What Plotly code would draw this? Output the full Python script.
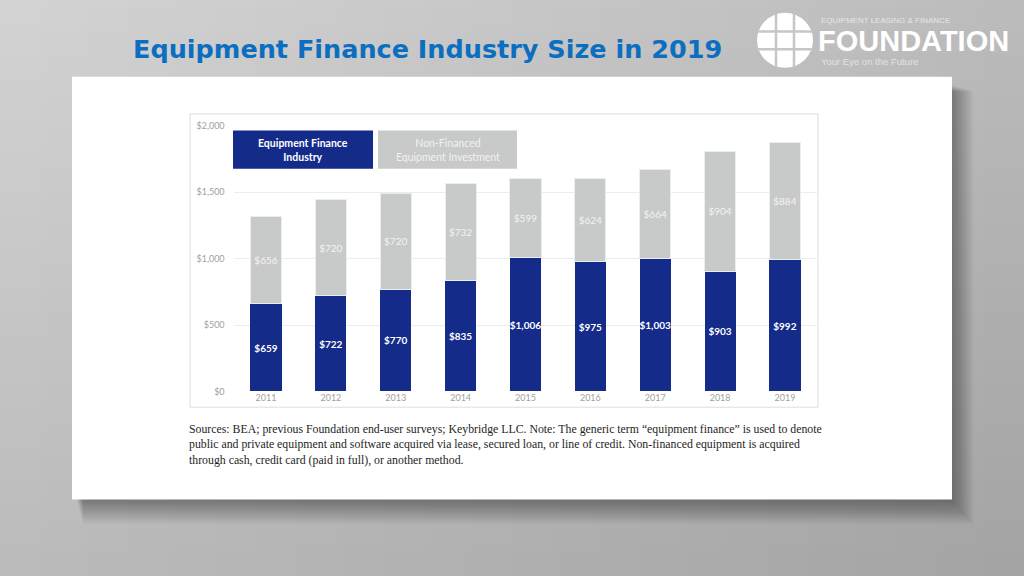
import plotly.graph_objects as go

years = ["2011", "2012", "2013", "2014", "2015", "2016", "2017", "2018", "2019"]
financed = [659, 722, 770, 835, 1006, 975, 1003, 903, 992]
non_financed = [656, 720, 720, 732, 599, 624, 664, 904, 884]
y_ticks = [0, 500, 1000, 1500, 2000]
y_tick_labels = ["$0", "$500", "$1,000", "$1,500", "$2,000"]

W, H = 1024, 576
def px(x):
    return x / W
def py(y):
    return 1 - y / H

BLUE = "#142b8a"
GRAY = "#c8c9c9"

fig = go.Figure()
fig.add_trace(go.Bar(
    x=years, y=financed, name="Equipment Finance Industry",
    marker=dict(color=BLUE, line=dict(width=0)),
    text=[f"${v:,}" for v in financed], textposition="inside",
    insidetextanchor="middle", textangle=0,
    textfont=dict(color="white", size=10, family="Lato", weight="bold"),
))
fig.add_trace(go.Bar(
    x=years, y=non_financed, name="Non-Financed Equipment Investment",
    marker=dict(color=GRAY, line=dict(width=1, color="#e8eef5")),
    text=[f"${v:,}" for v in non_financed], textposition="inside",
    insidetextanchor="middle", textangle=0,
    textfont=dict(color="#f4f4f4", size=10, family="Lato"),
))

shapes = []
# background gradient: darker toward bottom and right
n = 24
for i in range(n):
    y0 = i * H / n
    shapes.append(dict(type="rect", xref="paper", yref="paper", layer="below",
                       x0=-0.05, x1=1.05, y0=-0.05, y1=py(y0),
                       fillcolor="rgba(0,0,0,0.0045)", line=dict(width=0)))
    x0 = i * W / n
    shapes.append(dict(type="rect", xref="paper", yref="paper", layer="below",
                       x0=px(x0), x1=1.05, y0=-0.05, y1=1.05,
                       fillcolor="rgba(0,0,0,0.005)", line=dict(width=0)))
# card shadow (soft, below and right)
for k in range(1, 25):
    shapes.append(dict(type="rect", xref="paper", yref="paper", layer="below",
                       x0=px(76 + k * 0.3), x1=px(950 + k), y0=py(502 + k * 1.1), y1=py(80 + k * 0.3),
                       fillcolor="rgba(0,0,0,0.015)", line=dict(width=0)))
# card
shapes.append(dict(type="rect", xref="paper", yref="paper", layer="below",
                   x0=px(72), x1=px(952), y0=py(503), y1=py(72),
                   fillcolor="white", line=dict(width=0)))
# chart image border
shapes.append(dict(type="rect", xref="paper", yref="paper", layer="below",
                   x0=px(190), x1=px(818), y0=py(409), y1=py(110),
                   fillcolor="rgba(0,0,0,0)", line=dict(width=1, color="#dedede")))
# legend boxes
shapes.append(dict(type="rect", xref="paper", yref="paper",
                   x0=px(233), x1=px(373), y0=py(166), y1=py(127),
                   fillcolor=BLUE, line=dict(width=0)))
shapes.append(dict(type="rect", xref="paper", yref="paper",
                   x0=px(378), x1=px(517), y0=py(166), y1=py(127),
                   fillcolor=GRAY, line=dict(width=0)))
# logo circle
cx, cy, r = 785, 35, 28
shapes.append(dict(type="circle", xref="paper", yref="paper",
                   x0=px(cx - r), x1=px(cx + r), y0=py(cy + r), y1=py(cy - r),
                   fillcolor="white", line=dict(width=0)))
for gx in (776, 794):
    shapes.append(dict(type="line", xref="paper", yref="paper",
                       x0=px(gx), x1=px(gx), y0=py(cy + r), y1=py(cy - r),
                       line=dict(color="#c6c6c6", width=2.5)))
for gy in (26, 44):
    shapes.append(dict(type="line", xref="paper", yref="paper",
                       x0=px(cx - r), x1=px(cx + r), y0=py(gy), y1=py(gy),
                       line=dict(color="#c6c6c6", width=2.5)))

annotations = [
    dict(text="<b>Equipment Finance Industry Size in 2019</b>", x=px(131), y=py(44),
         xref="paper", yref="paper", xanchor="left", yanchor="middle", showarrow=False,
         font=dict(family="DejaVu Sans", size=25.5, color="#0b6ec0")),
    dict(text="<b>FOUNDATION</b>", x=px(816), y=py(36), xref="paper", yref="paper",
         xanchor="left", yanchor="middle", showarrow=False,
         font=dict(family="Liberation Sans", size=29, color="white")),
    dict(text="EQUIPMENT LEASING &amp; FINANCE", x=px(819), y=py(15), xref="paper", yref="paper",
         xanchor="left", yanchor="middle", showarrow=False,
         font=dict(family="Liberation Sans", size=8, color="#e6e6e6")),
    dict(text="Your Eye on the Future", x=px(819), y=py(57), xref="paper", yref="paper",
         xanchor="left", yanchor="middle", showarrow=False,
         font=dict(family="Liberation Sans", size=9.5, color="#e2e2e2")),
    dict(text="<b>Equipment Finance<br>Industry</b>", x=px(303), y=py(146.5), xref="paper", yref="paper",
         xanchor="center", yanchor="middle", showarrow=False,
         font=dict(family="Lato", size=10.5, color="white")),
    dict(text="Non-Financed<br>Equipment Investment", x=px(447.5), y=py(146.5), xref="paper", yref="paper",
         xanchor="center", yanchor="middle", showarrow=False,
         font=dict(family="Lato", size=10.5, color="#f2f2f2")),
    dict(text="Sources: BEA; previous Foundation end-user surveys; Keybridge LLC. Note: The generic term “equipment finance” is used to denote<br>"
              "public and private equipment and software acquired via lease, secured loan, or line of credit. Non-financed equipment is acquired<br>"
              "through cash, credit card (paid in full), or another method.",
         x=px(187), y=py(422), xref="paper", yref="paper", xanchor="left", yanchor="top",
         align="left", showarrow=False,
         font=dict(family="Liberation Serif", size=11.8, color="#1e1e1e")),
]

fig.update_layout(
    width=W, height=H,
    margin=dict(l=0, r=0, t=0, b=0),
    paper_bgcolor="#d4d4d4",
    plot_bgcolor="rgba(0,0,0,0)",
    barmode="stack",
    bargap=0.52,
    showlegend=False,
    shapes=shapes,
    annotations=annotations,
    uniformtext=dict(minsize=10, mode="show"),
    xaxis=dict(domain=[px(233.6), px(817.4)], showgrid=False, zeroline=False,
               showline=False, ticks="",
               tickfont=dict(family="Lato", size=9, color="#a0a0a0")),
    yaxis=dict(domain=[1 - 393 / H, 1 - 122 / H], range=[0, 2000],
               tickvals=y_ticks, ticktext=y_tick_labels,
               showgrid=True, gridcolor="#ececec", gridwidth=1, zeroline=False,
               showline=False, ticks="", ticklabelstandoff=8,
               tickfont=dict(family="Lato", size=9, color="#a0a0a0")),
    font=dict(family="Lato"),
)

fig.write_html("out.html", config={"displayModeBar": False},
               post_script="document.body.style.margin='0';document.body.style.overflow='hidden';")
